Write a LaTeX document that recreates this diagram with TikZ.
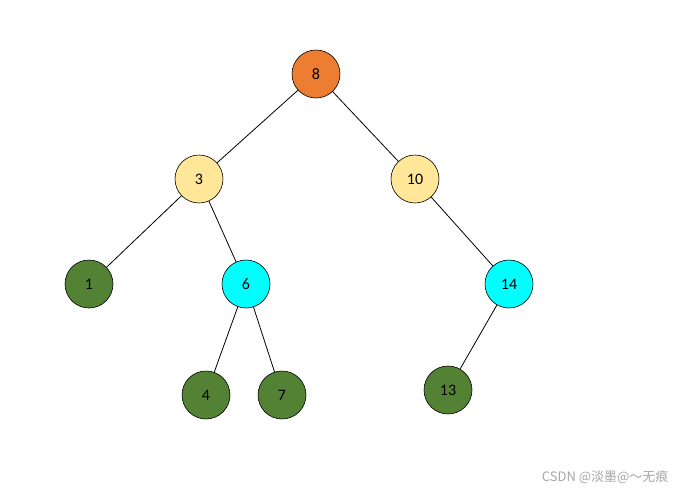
\documentclass[tikz,border=0pt]{standalone}
\usepackage{fontspec}
\setmainfont{Carlito}
\newfontfamily\cjk{Noto Sans CJK SC}
\tikzset{
  vert/.style={circle,draw=black,line width=0.6pt,minimum size=48pt,inner sep=0pt,font=\fontsize{16}{18}\selectfont},
  edge/.style={draw=black,line width=0.8pt}
}
\definecolor{rootc}{HTML}{ED7D31}
\definecolor{innerc}{HTML}{FFE699}
\definecolor{cyanc}{HTML}{00FFFF}
\definecolor{leafc}{HTML}{548235}
\begin{document}
\begin{tikzpicture}[x=1pt,y=-1pt]
  \useasboundingbox (0,0) rectangle (687,496);
  % vertices
  \node[vert,fill=rootc] (n8) at (316,74) {8};
  \node[vert,fill=innerc] (n3) at (199,179) {3};
  \node[vert,fill=innerc] (n10) at (415,179) {10};
  \node[vert,fill=leafc] (n1) at (89,284) {1};
  \node[vert,fill=cyanc] (n6) at (246,284) {6};
  \node[vert,fill=cyanc] (n14) at (509,284) {14};
  \node[vert,fill=leafc] (n4) at (206,395) {4};
  \node[vert,fill=leafc] (n7) at (282,395) {7};
  \node[vert,fill=leafc] (n13) at (448,390) {13};
  % edges
  \draw[edge] (n8) -- (n3);
  \draw[edge] (n8) -- (n10);
  \draw[edge] (n3) -- (n1);
  \draw[edge] (n3) -- (n6);
  \draw[edge] (n10) -- (n14);
  \draw[edge] (n6) -- (n4);
  \draw[edge] (n6) -- (n7);
  \draw[edge] (n14) -- (n13);
  % watermark
  \node[text=black!35,font=\cjk\fontsize{13}{15}\selectfont,anchor=east] (mark) at (672,477) {CSDN @淡墨@～无痕};
\end{tikzpicture}
\end{document}
